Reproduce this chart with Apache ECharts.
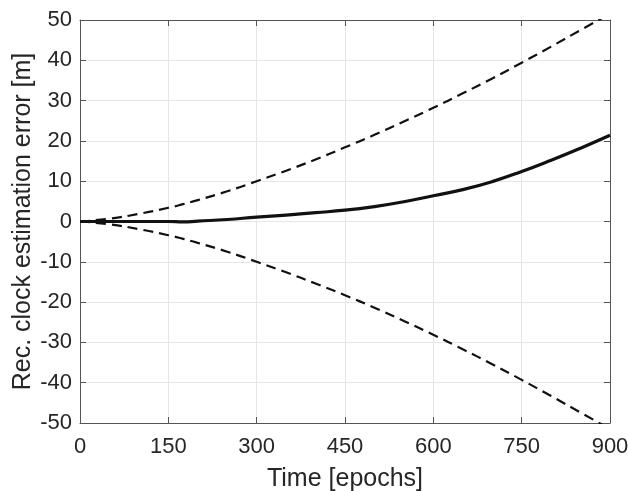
<!DOCTYPE html>
<html>
<head>
<meta charset="utf-8">
<script src="https://cdn.jsdelivr.net/npm/echarts@6/dist/echarts.min.js"></script>
<style>
    html, body {margin: 0; padding: 0; background: #fff;}
    #chart {width: 628px; height: 491px;}
</style>
</head>
<body>
<div id="chart"></div>
<script>
// epochs and values
var epochs = [0, 50, 100, 150, 175, 200, 250, 300, 350, 400, 450, 500, 550, 600, 650, 700, 750, 800, 850, 900];
var clockError = [0, 0, 0, 0, -0.1, 0.1, 0.5, 1.1, 1.6, 2.2, 2.8, 3.7, 4.9, 6.4, 7.9, 9.9, 12.4, 15.2, 18.2, 21.4];
var upperBound = [0, 0.7, 1.9, 3.4, 4.3, 5.3, 7.5, 10, 12.6, 15.4, 18.4, 21.5, 24.8, 28.2, 31.8, 35.5, 39.4, 43.4, 47.5, 51.6];
var lowerBound = [0, -0.7, -1.9, -3.4, -4.3, -5.3, -7.5, -10, -12.6, -15.4, -18.3, -21.4, -24.7, -28.1, -31.7, -35.4, -39.3, -43.3, -47.4, -51.5];

function pairs(ys) {
    var out = [];
    for (var i = 0; i < epochs.length; i++) {
        out.push([epochs[i], ys[i]]);
    }
    return out;
}

var chart = echarts.init(document.getElementById('chart'));
var axisCol = '#555555';
var font = 'Liberation Sans, Arial, Helvetica, sans-serif';

var option = {
    animation: false,
    grid: {left: 80, right: 18, top: 20, bottom: 68, containLabel: false, outerBoundsMode: 'none'},
    xAxis: [{
        type: 'value',
        min: 0, max: 900, interval: 150,
        name: 'Time [epochs]',
        nameLocation: 'middle',
        nameGap: 44,
        nameMoveOverlap: false,
        nameTextStyle: {color: '#262626', fontSize: 25, fontFamily: font},
        axisLine: {show: true, onZero: false, lineStyle: {color: axisCol, width: 1}},
        axisTick: {show: true, inside: true, length: 6, lineStyle: {color: axisCol}},
        axisLabel: {color: '#262626', fontSize: 22, fontFamily: font, margin: 13},
        splitLine: {show: true, lineStyle: {color: '#e6e6e6', width: 1}}
    }, {
        type: 'value', position: 'top',
        min: 0, max: 900, interval: 150,
        axisLine: {show: true, onZero: false, lineStyle: {color: axisCol, width: 1}},
        axisTick: {show: true, inside: true, length: 6, lineStyle: {color: axisCol}},
        axisLabel: {show: false},
        splitLine: {show: false}
    }],
    yAxis: [{
        type: 'value',
        min: -50, max: 50, interval: 10,
        name: 'Rec. clock estimation error [m]',
        nameLocation: 'middle',
        nameGap: 44,
        nameMoveOverlap: false,
        nameTextStyle: {color: '#262626', fontSize: 25, fontFamily: font},
        axisLine: {show: true, onZero: false, lineStyle: {color: axisCol, width: 1}},
        axisTick: {show: true, inside: true, length: 6, lineStyle: {color: axisCol}},
        axisLabel: {color: '#262626', fontSize: 22, fontFamily: font, margin: 8},
        splitLine: {show: true, lineStyle: {color: '#e6e6e6', width: 1}}
    }, {
        type: 'value', position: 'right',
        min: -50, max: 50, interval: 10,
        axisLine: {show: true, onZero: false, lineStyle: {color: axisCol, width: 1}},
        axisTick: {show: true, inside: true, length: 6, lineStyle: {color: axisCol}},
        axisLabel: {show: false},
        splitLine: {show: false}
    }],
    series: [{
        type: 'line',
        data: pairs(upperBound),
        smooth: true,
        showSymbol: false,
        clip: true,
        lineStyle: {color: '#111', width: 2.2, type: [10, 6]}
    }, {
        type: 'line',
        data: pairs(lowerBound),
        smooth: true,
        showSymbol: false,
        clip: true,
        lineStyle: {color: '#111', width: 2.2, type: [10, 6]}
    }, {
        type: 'line',
        data: pairs(clockError),
        smooth: true,
        showSymbol: false,
        clip: true,
        lineStyle: {color: '#111', width: 3.2}
    }]
};
chart.setOption(option);
</script>
</body>
</html>
